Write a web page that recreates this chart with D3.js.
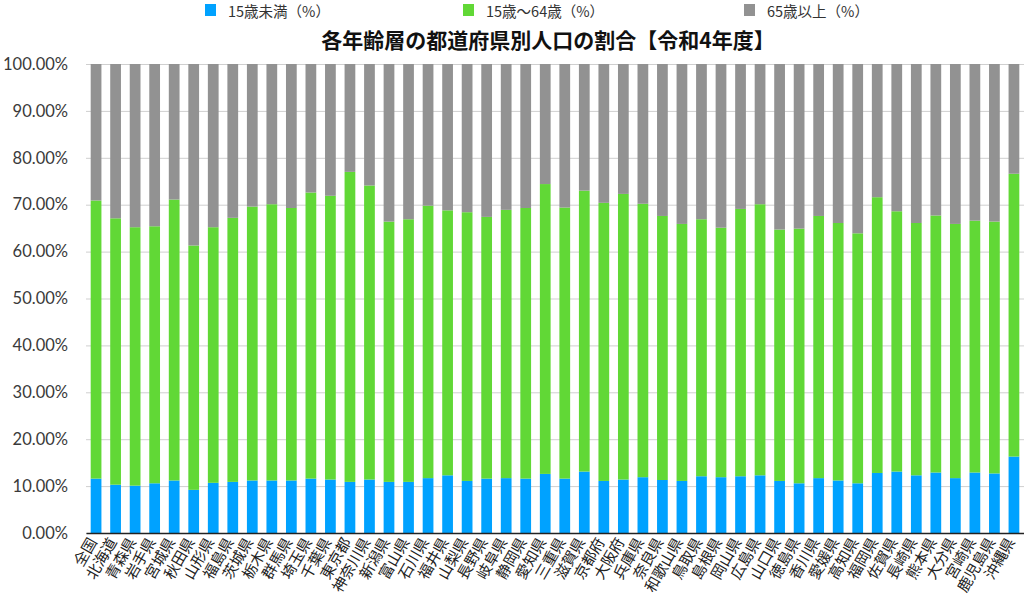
<!DOCTYPE html>
<html>
<head>
<meta charset="utf-8">
<script src="https://cdn.jsdelivr.net/npm/d3@7"></script>
<style>
  body { margin: 0; background: #fff; }
  text { font-family: "Noto Sans CJK JP", sans-serif; }
</style>
</head>
<body>
<div id="chart"></div>
<script>
const prefs = ["全国","北海道","青森県","岩手県","宮城県","秋田県","山形県","福島県","茨城県","栃木県","群馬県","埼玉県","千葉県","東京都","神奈川県","新潟県","富山県","石川県","福井県","山梨県","長野県","岐阜県","静岡県","愛知県","三重県","滋賀県","京都府","大阪府","兵庫県","奈良県","和歌山県","鳥取県","島根県","岡山県","広島県","山口県","徳島県","香川県","愛媛県","高知県","福岡県","佐賀県","長崎県","熊本県","大分県","宮崎県","鹿児島県","沖縄県"];

// percentages
const under15 = [11.6,10.3,10.1,10.6,11.2,9.2,10.7,10.9,11.2,11.2,11.2,11.6,11.4,10.9,11.4,10.9,10.9,11.7,12.3,11.1,11.6,11.7,11.6,12.6,11.6,13.1,11.1,11.4,11.9,11.3,11.1,12.1,11.9,12.1,12.3,11.1,10.6,11.7,11.2,10.6,12.8,13.1,12.3,12.9,11.7,12.9,12.7,16.3];
const age15to64 = [59.3,56.8,55.1,54.8,59.9,52.1,54.5,56.3,58.4,58.9,58.1,61.0,60.5,66.1,62.7,55.5,56.0,58.1,56.5,57.3,55.8,57.2,57.7,61.8,57.8,59.9,59.3,60.9,58.3,56.3,54.8,54.8,53.2,57.0,57.8,53.6,54.3,55.9,54.9,53.3,58.8,55.5,53.8,54.8,54.2,53.7,53.7,60.3];
const over65 = [29.1,32.9,34.8,34.6,28.9,38.7,34.8,32.8,30.4,29.9,30.7,27.4,28.1,23.0,25.9,33.6,33.1,30.2,31.2,31.6,32.6,31.1,30.7,25.6,30.6,27.0,29.6,27.7,29.8,32.4,34.1,33.1,34.9,30.9,29.9,35.3,35.1,32.4,33.9,36.1,28.4,31.4,33.9,32.3,34.1,33.4,33.6,23.4];

const seriesNames = ["15歳未満（%）", "15歳〜64歳（%）", "65歳以上（%）"];
const yTicks = [0,10,20,30,40,50,60,70,80,90,100];
const title = "各年齢層の都道府県別人口の割合【令和4年度】";

const width = 1024;
const height = 602;
const marginTop = 64;
const marginBottom = 69;
const marginLeft = 86;
const marginRight = 0;

const rows = prefs.map((p, i) => ({
  pref: p,
  [seriesNames[0]]: under15[i],
  [seriesNames[1]]: age15to64[i],
  [seriesNames[2]]: over65[i]
}));

const stacked = d3.stack().keys(seriesNames)(rows);

const x = d3.scaleBand()
  .domain(prefs)
  .range([marginLeft, width - marginRight])
  .paddingInner(0.45)
  .paddingOuter(0.24);

const y = d3.scaleLinear()
  .domain([0, 100])
  .range([height - marginBottom, marginTop]);

const color = d3.scaleOrdinal()
  .domain(seriesNames)
  .range(["#00a2ff", "#61d836", "#929292"]);

const svg = d3.select("#chart").append("svg")
  .attr("width", width)
  .attr("height", height)
  .attr("viewBox", [0, 0, width, height]);

// gridlines
svg.append("g")
  .attr("transform", `translate(${marginLeft},0)`)
  .call(d3.axisLeft(y).tickValues(yTicks).tickSize(-(width - marginLeft - marginRight)).tickFormat(""))
  .call(g => g.select(".domain").remove())
  .call(g => g.selectAll("line").attr("stroke", "#cfcfcf").attr("stroke-width", 1));

// y labels
svg.append("g")
  .attr("transform", `translate(${marginLeft},0)`)
  .call(d3.axisLeft(y).tickValues(yTicks).tickSize(0).tickPadding(18).tickFormat(d => d.toFixed(2) + "%"))
  .call(g => g.select(".domain").remove())
  .call(g => g.selectAll("text")
    .attr("fill", "#3a3a3a")
    .style("font-family", "Lato, 'Noto Sans CJK JP', sans-serif")
    .style("font-size", "16.5px"));

// bars
svg.append("g")
  .selectAll("g")
  .data(stacked)
  .join("g")
    .attr("fill", d => color(d.key))
  .selectAll("rect")
  .data(d => d)
  .join("rect")
    .attr("x", d => x(d.data.pref))
    .attr("y", d => y(d[1]))
    .attr("width", x.bandwidth())
    .attr("height", d => y(d[0]) - y(d[1]));

// x axis
svg.append("g")
  .attr("transform", `translate(0,${height - marginBottom})`)
  .call(d3.axisBottom(x).tickSize(0).tickPadding(0))
  .call(g => g.select(".domain").attr("stroke", "#222").attr("stroke-width", 1.5))
  .call(g => g.selectAll("text")
    .attr("fill", "#222")
    .style("font-size", "15px")
    .attr("text-anchor", "end")
    .attr("dy", "0.35em")
    .attr("transform", "translate(-3,6) rotate(-60)"));

// title
svg.append("text")
  .attr("x", 548)
  .attr("y", 48)
  .attr("text-anchor", "middle")
  .style("font-size", "21px")
  .style("font-weight", "bold")
  .attr("fill", "#111")
  .text(title);

// legend
const legendX = [205, 463, 744];
const legend = svg.append("g")
  .selectAll("g")
  .data(seriesNames)
  .join("g")
    .attr("transform", (d, i) => `translate(${legendX[i]},4)`);

legend.append("rect")
  .attr("width", 11)
  .attr("height", 12)
  .attr("fill", d => color(d));

legend.append("text")
  .attr("x", 23)
  .attr("y", 12.5)
  .style("font-size", "14.5px")
  .attr("fill", "#333")
  .text(d => d);
</script>
</body>
</html>
